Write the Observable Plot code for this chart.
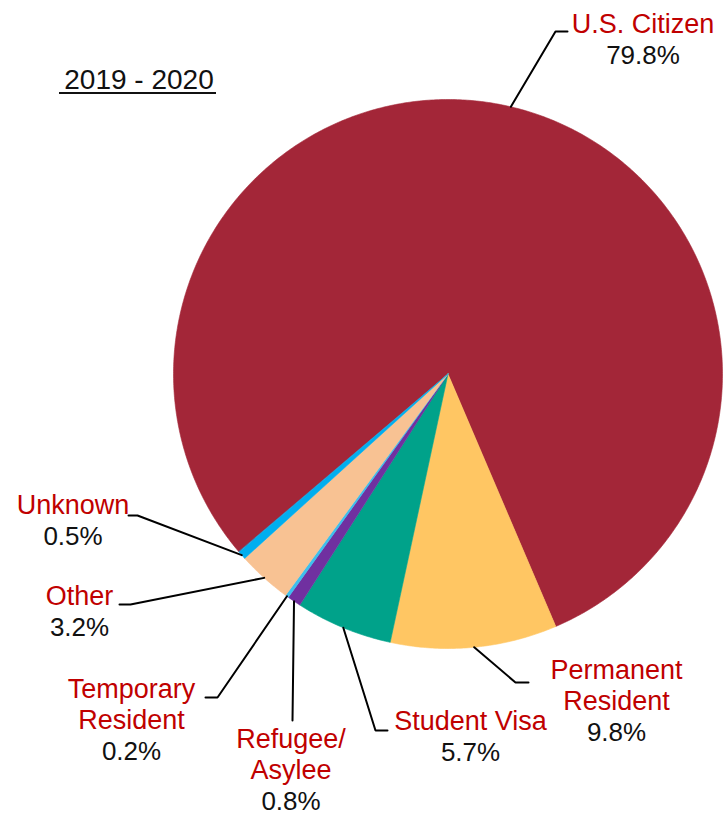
<!DOCTYPE html>
<html><head><meta charset="utf-8">
<script src="https://cdn.jsdelivr.net/npm/d3@7"></script>
<script src="https://cdn.jsdelivr.net/npm/@observablehq/plot@0.6"></script>
<style>
body{margin:0;background:#fff;}
g[aria-label="title"] text{letter-spacing:1.6px;}
</style></head><body><div id="chart"></div>
<script>
// ---- data ----
const categories = ["U.S. Citizen","Permanent Resident","Student Visa","Refugee/ Asylee","Temporary Resident","Other","Unknown"];
const labelLines = ["U.S. Citizen","Permanent\nResident","Student Visa","Refugee/\nAsylee","Temporary\nResident","Other","Unknown"];
const shares = [79.8, 9.8, 5.7, 0.8, 0.2, 3.2, 0.5];
const pctLabels = ["79.8%","9.8%","5.7%","0.8%","0.2%","3.2%","0.5%"];
const colors = ["#A32638","#FFC663","#00A28A","#7030A0","#3DC0EE","#F8C293","#00AEEF"];
const titleText = "2019 - 2020";

// ---- layout (pixels) ----
const W = 723, H = 815, CX = 447.5, CY = 373.5, R = 274.5, START_DEG = -130.4;
const labelAnchors = [[642.5,32],[616,709],[470,729],[290.5,778],[131,728],[79,604],[72.5,513]];
const leaderBends = [
  [[555,31],[567,31]],
  [[515,682],[528,682]],
  [[375,730],[387,730]],
  [[292,720]],
  [[217,697],[205,697]],
  [[130,604],[119,604]],
  [[137,515],[128,515]]
];
const titleAnchor = [138.5, 88];
const titleUnderline = {x1: 59, x2: 216, y: 92.5};
const ux = px => (px - CX) / R;
const uy = py => (CY - py) / R;

// ---- geometry from data ----
const arcs = d3.pie().sort(null).value(d => d)
  .startAngle(START_DEG * Math.PI / 180)
  .endAngle(START_DEG * Math.PI / 180 + 2 * Math.PI)(shares);

const slicePts = [];
arcs.forEach((a, i) => {
  const cat = categories[i];
  slicePts.push({cat, x: 0, y: 0});
  const n = Math.max(2, Math.ceil((a.endAngle - a.startAngle) / (Math.PI / 360)));
  for (let k = 0; k <= n; ++k) {
    const t = a.startAngle + (a.endAngle - a.startAngle) * k / n;
    slicePts.push({cat, x: Math.sin(t), y: Math.cos(t)});
  }
});

const leaderPts = [];
arcs.forEach((a, i) => {
  const m = (a.startAngle + a.endAngle) / 2;
  leaderPts.push({cat: categories[i], x: Math.sin(m), y: Math.cos(m)});
  leaderBends[i].forEach(([px, py]) => leaderPts.push({cat: categories[i], x: ux(px), y: uy(py)}));
});

const nameRows = categories.map((c, i) => ({text: labelLines[i], x: ux(labelAnchors[i][0]), y: uy(labelAnchors[i][1])}));
const pctRows = categories.map((c, i) => ({text: pctLabels[i], x: ux(labelAnchors[i][0]), y: uy(labelAnchors[i][1] + 31.5)}));

const font = "'Liberation Sans', Arial, sans-serif";

const chart = Plot.plot({
  width: W, height: H,
  margin: 0,
  x: {domain: [ux(0), ux(W)], axis: null},
  y: {domain: [uy(H), uy(0)], axis: null},
  color: {domain: categories, range: colors},
  style: {fontFamily: font, background: "#fff"},
  marks: [
    Plot.line(slicePts, {x: "x", y: "y", z: "cat", fill: "cat", stroke: "cat", strokeWidth: 0.6, curve: "linear-closed"}),
    Plot.line(leaderPts, {x: "x", y: "y", z: "cat", stroke: "#000", strokeWidth: 2, strokeLinejoin: "miter", curve: "linear"}),
    Plot.text(nameRows, {x: "x", y: "y", text: "text", fill: "#C00000", fontSize: 27, lineAnchor: "bottom", lineHeight: 31/27, fontFamily: font}),
    Plot.text(pctRows, {x: "x", y: "y", text: "text", fill: "#111", fontSize: 26, lineAnchor: "bottom", fontFamily: font}),
    Plot.text([titleText], {x: ux(titleAnchor[0]), y: uy(titleAnchor[1]), text: d => d, fill: "#111", fontSize: 28, lineAnchor: "bottom", fontFamily: font, ariaLabel: "title"}),
    Plot.ruleY([uy(titleUnderline.y)], {x1: ux(titleUnderline.x1), x2: ux(titleUnderline.x2), stroke: "#111", strokeWidth: 2.2})
  ]
});
document.getElementById("chart").appendChild(chart);
</script></body></html>
